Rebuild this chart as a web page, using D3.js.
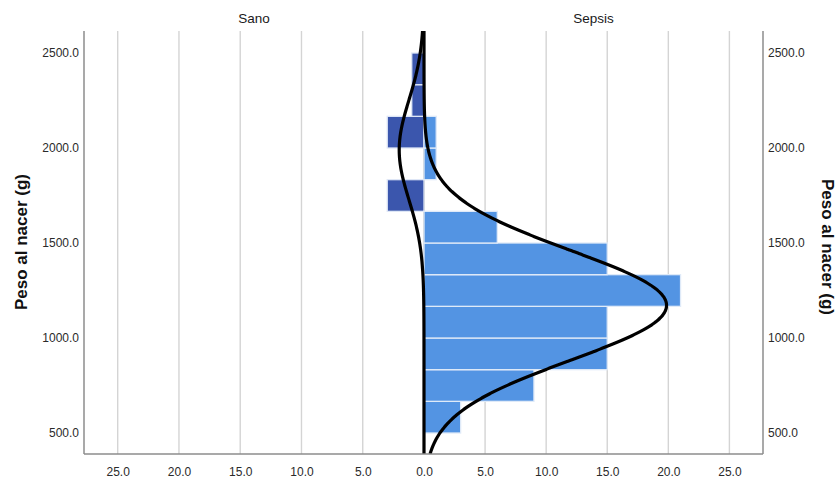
<!DOCTYPE html>
<html>
<head>
<meta charset="utf-8">
<script src="https://cdn.jsdelivr.net/npm/d3@7"></script>
<style>
  html, body { margin: 0; padding: 0; background: #fff; }
  svg { display: block; font-family: "Liberation Sans", Arial, sans-serif; }
</style>
</head>
<body>
<svg id="chart" width="838" height="479"></svg>
<script>
// Birth weight histogram, healthy (Sano) vs sepsis, back to back
const binEdges = [500, 666.67, 833.33, 1000, 1166.67, 1333.33, 1500, 1666.67, 1833.33, 2000, 2166.67, 2333.33, 2500];
const sanoCounts   = [0, 0, 0, 0, 0, 0, 0, 3, 0, 3, 1, 1];
const sepsisCounts = [3, 9, 15, 15, 21, 15, 6, 0, 1, 1, 0, 0];
const groupNames = ["Sano", "Sepsis"];
// normal fit parameters for each group (mean, sd in g)
const sanoNormal   = [1990, 263];
const sepsisNormal = [1172, 288];
const countTicksLeft  = [0, 5, 10, 15, 20, 25];
const countTicksRight = [5, 10, 15, 20, 25];
const weightTicks = [500, 1000, 1500, 2000, 2500];
const axisTitle = "Peso al nacer (g)";

const svg = d3.select("#chart");
const plotL = 84, plotMid = 424, plotR = 763, plotT = 31, plotB = 454;
const countMax = 27.75;

const xL = d3.scaleLinear().domain([countMax, 0]).range([plotL, plotMid]);
const xR = d3.scaleLinear().domain([0, countMax]).range([plotMid, plotR]);
const y = d3.scaleLinear().domain([389.5, 2615.8]).range([plotB, plotT]);

const bins = binEdges.slice(0, -1).map((lo, i) => ({
  lo, hi: binEdges[i + 1], sano: sanoCounts[i], sepsis: sepsisCounts[i]
}));
const binWidth = binEdges[1] - binEdges[0];

// vertical grid lines
const grid = svg.append("g").attr("stroke", "#d4d4d4").attr("stroke-width", 1.4);
countTicksRight.forEach(t => {
  grid.append("line").attr("x1", xL(t)).attr("x2", xL(t)).attr("y1", plotT).attr("y2", plotB);
  grid.append("line").attr("x1", xR(t)).attr("x2", xR(t)).attr("y1", plotT).attr("y2", plotB);
});

// center divider
svg.append("line").attr("x1", plotMid).attr("x2", plotMid).attr("y1", plotT).attr("y2", plotB)
  .attr("stroke", "#9a9a9a").attr("stroke-width", 1.2);

// bars
svg.append("g").selectAll("rect").data(bins.filter(d => d.sano > 0)).join("rect")
  .attr("x", d => xL(d.sano)).attr("width", d => plotMid - xL(d.sano))
  .attr("y", d => y(d.hi)).attr("height", d => y(d.lo) - y(d.hi))
  .attr("fill", "#3b56ad").attr("stroke", "#dfe7f6").attr("stroke-width", 1.3);
svg.append("g").selectAll("rect").data(bins.filter(d => d.sepsis > 0)).join("rect")
  .attr("x", plotMid).attr("width", d => xR(d.sepsis) - plotMid)
  .attr("y", d => y(d.hi)).attr("height", d => y(d.lo) - y(d.hi))
  .attr("fill", "#5394e3").attr("stroke", "#dfeaf8").attr("stroke-width", 1.3);

// normal curves scaled to counts
function normalCurve(params, counts) {
  const n = d3.sum(counts);
  const [m, s] = params;
  return d3.range(389.5, 2616, 4).concat([2615.8]).map(v =>
    [v, n * binWidth * Math.exp(-0.5 * ((v - m) / s) ** 2) / (s * Math.sqrt(2 * Math.PI))]);
}
svg.append("clipPath").attr("id", "plotclip").append("rect")
  .attr("x", plotL).attr("y", plotT).attr("width", plotR - plotL).attr("height", plotB - plotT);
const curves = svg.append("g").attr("clip-path", "url(#plotclip)")
  .attr("fill", "none").attr("stroke", "#000").attr("stroke-width", 3.2);
curves.append("path").datum(normalCurve(sanoNormal, sanoCounts))
  .attr("d", d3.line().x(d => xL(d[1])).y(d => y(d[0])).curve(d3.curveBasis));
curves.append("path").datum(normalCurve(sepsisNormal, sepsisCounts))
  .attr("d", d3.line().x(d => xR(d[1])).y(d => y(d[0])).curve(d3.curveBasis));

// frame lines
const frame = svg.append("g").attr("stroke", "#8c8c8c").attr("stroke-width", 1.5);
frame.append("line").attr("x1", plotL).attr("x2", plotL).attr("y1", plotT).attr("y2", plotB);
frame.append("line").attr("x1", plotR).attr("x2", plotR).attr("y1", plotT).attr("y2", plotB);
frame.append("line").attr("x1", plotL).attr("x2", plotR).attr("y1", plotB).attr("y2", plotB);

// count axes
const fmt = d3.format(".1f");
function countAxis(scale, ticks) {
  const g = svg.append("g").attr("transform", `translate(0,${plotB})`)
    .call(d3.axisBottom(scale).tickValues(ticks).tickFormat(fmt).tickSize(0).tickPadding(13));
  g.select(".domain").remove();
  g.selectAll("text").attr("font-size", 12).attr("fill", "#2a2a2a")
    .attr("font-family", "Liberation Sans, Arial, sans-serif");
}
countAxis(xL, countTicksLeft);
countAxis(xR, countTicksRight);

// weight axes
function weightAxis(axisFn, xpos) {
  const g = svg.append("g").attr("transform", `translate(${xpos},0)`)
    .call(axisFn(y).tickValues(weightTicks).tickFormat(fmt).tickSize(0).tickPadding(5));
  g.select(".domain").remove();
  g.selectAll("text").attr("font-size", 12).attr("fill", "#2a2a2a")
    .attr("font-family", "Liberation Sans, Arial, sans-serif");
}
weightAxis(d3.axisLeft, plotL);
weightAxis(d3.axisRight, plotR);

// panel titles
svg.append("text").attr("x", (plotL + plotMid) / 2).attr("y", 23).attr("text-anchor", "middle")
  .attr("font-size", 13.5).attr("fill", "#1a1a1a").text(groupNames[0]);
svg.append("text").attr("x", (plotMid + plotR) / 2).attr("y", 23).attr("text-anchor", "middle")
  .attr("font-size", 13.5).attr("fill", "#1a1a1a").text(groupNames[1]);

// axis titles
svg.append("text").attr("transform", "translate(27,242) rotate(-90)")
  .attr("text-anchor", "middle").attr("font-size", 17).attr("font-weight", "bold")
  .attr("fill", "#111").text(axisTitle);
svg.append("text").attr("transform", "translate(822,247) rotate(90)")
  .attr("text-anchor", "middle").attr("font-size", 17).attr("font-weight", "bold")
  .attr("fill", "#111").text(axisTitle);
</script>
</body>
</html>
